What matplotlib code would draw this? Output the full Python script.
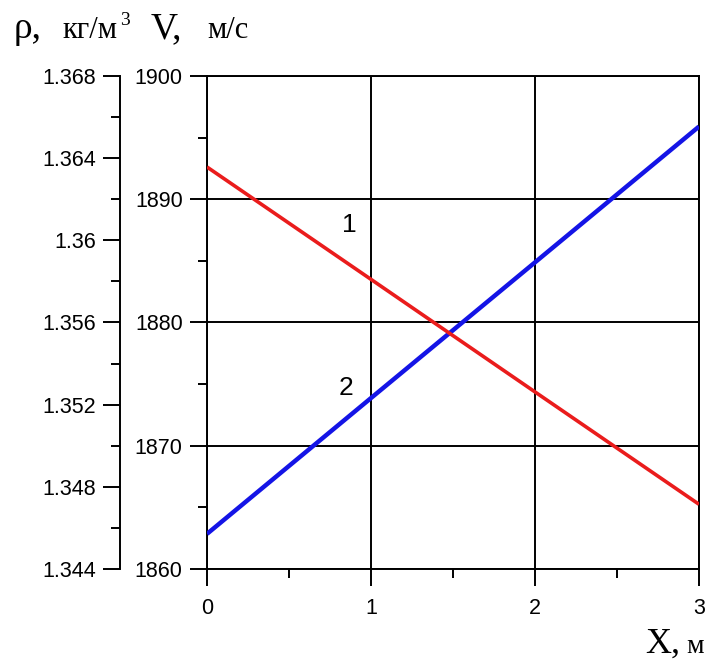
import numpy as np, matplotlib as mpl
mpl.use('Agg'); import matplotlib.pyplot as plt
from matplotlib.ticker import MultipleLocator, FixedLocator

mpl.rcParams.update({'font.family': 'Liberation Sans', 'font.size': 15})
SERIF = 'Liberation Serif'
RED = '#ea1c1c'; BLUE = '#1414e6'

# distance along the channel, m
x = [0, 1, 2, 3]
# curve 1: density, kg/m^3
rho = [1.36357, 1.35810, 1.35262, 1.34715]
# curve 2: velocity, m/s
vel = [1862.85, 1873.87, 1884.88, 1895.90]

rho_ticks = [1.344, 1.348, 1.352, 1.356, 1.360, 1.364, 1.368]
rho_labels = ['1.344', '1.348', '1.352', '1.356', '1.36', '1.364', '1.368']
vel_ticks = [1860, 1870, 1880, 1890, 1900]
x_ticks = [0, 1, 2, 3]

W, H = 712, 661
TICK_FS = 15.5
fig = plt.figure(figsize=(W / 100, H / 100), dpi=100, facecolor='white')
ax = fig.add_axes([207 / W, 1 - 569 / H, (699 - 207) / W, (569 - 76) / H])

ax.set_xlim(0, 3); ax.set_ylim(1860, 1900)
ax.set_xticks(x_ticks); ax.xaxis.set_minor_locator(MultipleLocator(0.5))
ax.set_yticks(vel_ticks); ax.yaxis.set_minor_locator(MultipleLocator(5))
ax.grid(True, which='major', color='k', lw=1.4)
ax.tick_params(which='major', direction='out', length=12, width=1.4, labelsize=TICK_FS, colors='k')
ax.tick_params(which='minor', direction='out', length=6.5, width=1.4)
ax.tick_params(axis='y', pad=5.5)
ax.tick_params(axis='x', pad=9)
for s in ax.spines.values(): s.set_linewidth(1.4)
ax.plot(x, vel, color=BLUE, lw=3.2, zorder=3, solid_capstyle='butt')

# density axis, shifted left of the velocity axis
ax2 = ax.twinx()
ax2.yaxis.tick_left(); ax2.yaxis.set_label_position('left')
ax2.spines['left'].set_position(('outward', 62.6))
ax2.spines['left'].set_visible(True); ax2.spines['left'].set_linewidth(1.4)
for s in ('right', 'top', 'bottom'): ax2.spines[s].set_visible(False)
ax2.set_ylim(1.344, 1.368)
ax2.yaxis.set_major_locator(FixedLocator(rho_ticks))
ax2.set_yticklabels(rho_labels)
ax2.yaxis.set_minor_locator(MultipleLocator(0.002))
ax2.tick_params(which='major', direction='out', length=12, width=1.4, labelsize=TICK_FS, pad=5.5)
ax2.tick_params(which='minor', direction='out', length=6.5, width=1.4)
ax2.plot(x, rho, color=RED, lw=2.6, zorder=3, solid_capstyle='butt')

ax.text(0.87, 1887.9, '1', fontsize=19, ha='center', va='center', zorder=5)
ax.text(0.85, 1874.7, '2', fontsize=19, ha='center', va='center', zorder=5)

# axis titles
fig.text(14 / W, 1 - 38 / H, 'ρ,', family=SERIF, fontsize=27, va='baseline')
fig.text(62 / W, 1 - 38 / H, 'кг/м', family=SERIF, fontsize=22, va='baseline')
fig.text(120 / W, 1 - 25 / H, '3', family=SERIF, fontsize=14, va='baseline')
fig.text(151 / W, 1 - 38 / H, 'V,', family=SERIF, fontsize=27, va='baseline')
fig.text(207 / W, 1 - 38 / H, 'м/с', family=SERIF, fontsize=22, va='baseline')
fig.text(645 / W, 1 - 653 / H, 'X,', family=SERIF, fontsize=26, va='baseline')
fig.text(686 / W, 1 - 653 / H, 'м', family=SERIF, fontsize=20, va='baseline')

fig.savefig('out.png', dpi=100, facecolor='white')
plt.close(fig)
